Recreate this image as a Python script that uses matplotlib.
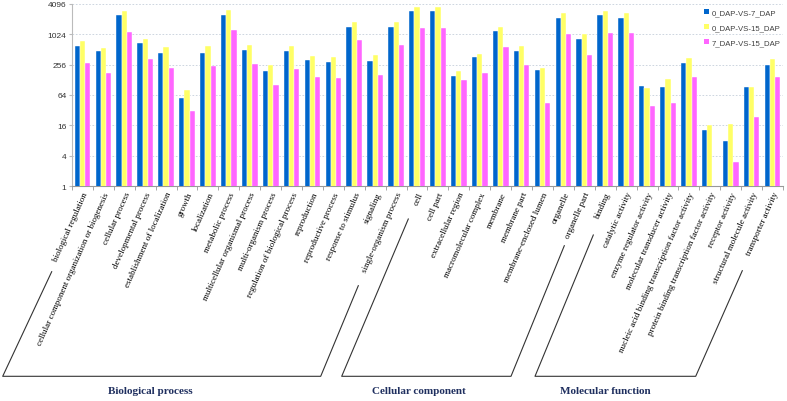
import numpy as np
import matplotlib.pyplot as plt
from matplotlib.lines import Line2D
from matplotlib.patches import Patch

# GO categories (x axis)
bio_terms = ['biological regulation', 'cellular component organization or biogenesis',
             'cellular process', 'developmental process', 'establishment of localization',
             'growth', 'localization', 'metabolic process', 'multicellular organismal process',
             'multi-organism process', 'regulation of biological process', 'reproduction',
             'reproductive process', 'response to stimulus', 'signaling', 'single-organism process']
cel_terms = ['cell', 'cell part', 'extracellular region', 'macromolecular complex', 'membrane',
             'membrane part', 'membrane-enclosed lumen', 'organelle', 'organelle part']
mol_terms = ['binding', 'catalytic activity', 'enzyme regulator activity',
             'molecular transducer activity', 'nucleic acid binding transcription factor activity',
             'protein binding transcription factor activity', 'receptor activity',
             'structural molecule activity', 'transporter activity']
categories = bio_terms + cel_terms + mol_terms

series_names = ['0_DAP-VS-7_DAP', '0_DAP-VS-15_DAP', '7_DAP-VS-15_DAP']

# gene counts
d0_7 = [596, 481, 2410, 674, 433, 56, 440, 2440, 489, 194, 474, 315, 288, 1437, 301, 1416,
        2930, 2930, 154, 355, 1162, 474, 200, 2160, 808,
        2440, 2130, 95, 91, 278, 13, 8, 92, 247]
d0_15 = [760, 537, 2970, 820, 568, 80, 588, 3020, 622, 247, 604, 383, 366, 1780, 401, 1750,
         3570, 3570, 188, 413, 1437, 588, 219, 2720, 1043,
         2930, 2680, 88, 131, 340, 16, 17, 92, 329]
d7_15 = [278, 174, 1127, 334, 219, 31, 236, 1235, 259, 102, 212, 147, 139, 782, 161, 612,
         1370, 1370, 128, 171, 568, 250, 44, 1015, 396,
         1076, 1076, 39, 45, 145, 0, 3, 24, 147]

yticks = [1, 4, 16, 64, 256, 1024, 4096]
group_names = ['Biological process', 'Cellular component', 'Molecular function']

colors = ['#0066CC', '#FFFF66', '#FF66FF']
W, H = 787, 402

fig = plt.figure(figsize=(W / 100, H / 100), dpi=100)
ax = fig.add_axes([72 / W, 1 - 187.3 / H, (783 - 72) / W, (187.3 - 4.7) / H])

x = np.arange(len(categories))
bw = 0.25
for i, (vals, c) in enumerate(zip([d0_7, d0_15, d7_15], colors)):
    v = np.array(vals, dtype=float)
    v[v <= 0] = np.nan
    ax.bar(x + (i - 1) * bw, v, width=bw, color=c, edgecolor='white', linewidth=0.3,
           zorder=3, label=series_names[i])

ax.set_yscale('log', base=2)
ax.set_ylim(1, 4096)
ax.set_yticks(yticks)
ax.set_yticklabels([str(t) for t in yticks], fontsize=6, family='Liberation Sans', color='#333333')
ax.yaxis.set_minor_locator(plt.NullLocator())
ax.set_xlim(-0.5, len(categories) - 0.5)

ax.set_xticks(x)
ax.set_xticklabels(categories, rotation=66, ha='right', va='top', rotation_mode='anchor',
                   fontsize=6.5, family='Liberation Serif')
ax.tick_params(axis='x', length=0, pad=3)
ax.set_xticks(np.arange(len(categories) + 1) - 0.5, minor=True)
ax.tick_params(axis='x', which='minor', length=3, color='#999999')
ax.tick_params(axis='y', length=2, color='#BBBBBB', pad=2)

ax.grid(axis='y', linestyle=(0, (2, 2)), color='#C5CEDB', linewidth=0.6, zorder=0)
for s in ['top', 'right']:
    ax.spines[s].set_visible(False)
ax.spines['left'].set_color('#BBBBBB')
ax.spines['bottom'].set_color('#999999')

handles = [Patch(facecolor=c, edgecolor='none') for c in colors]
ax.legend(handles, series_names, loc='upper right', bbox_to_anchor=(1.006, 1.01),
          frameon=False, handlelength=0.55, handleheight=0.55,
          handletextpad=0.35, labelspacing=1.05, labelcolor='#404040',
          prop={'family': 'Liberation Sans', 'size': 5.6})


def px(xp, yp):
    return xp / W, 1 - yp / H


# group brackets under the tick labels
brackets = [
    [(51.7, 272.7), (2.7, 377.3), (320.7, 377.3), (358.3, 286.7)],
    [(408.3, 220), (341.7, 377.3), (511, 377.3), (564.3, 246.7)],
    [(593.3, 236), (535, 377.3), (695.7, 377.3), (742.3, 271.7)],
]
for pts in brackets:
    xs, ys = zip(*[px(a, b) for a, b in pts])
    fig.add_artist(Line2D(xs, ys, color='#333333', linewidth=0.8))

label_pos = [(150, 392), (418.5, 392), (605, 392)]
for name, (lx, ly) in zip(group_names, label_pos):
    fx, fy = px(lx, ly)
    fig.text(fx, fy, name, ha='center', va='center', fontsize=8, fontweight='bold',
             family='Liberation Serif', color='#1F2F5F')

fig.savefig('out.png', dpi=100)
